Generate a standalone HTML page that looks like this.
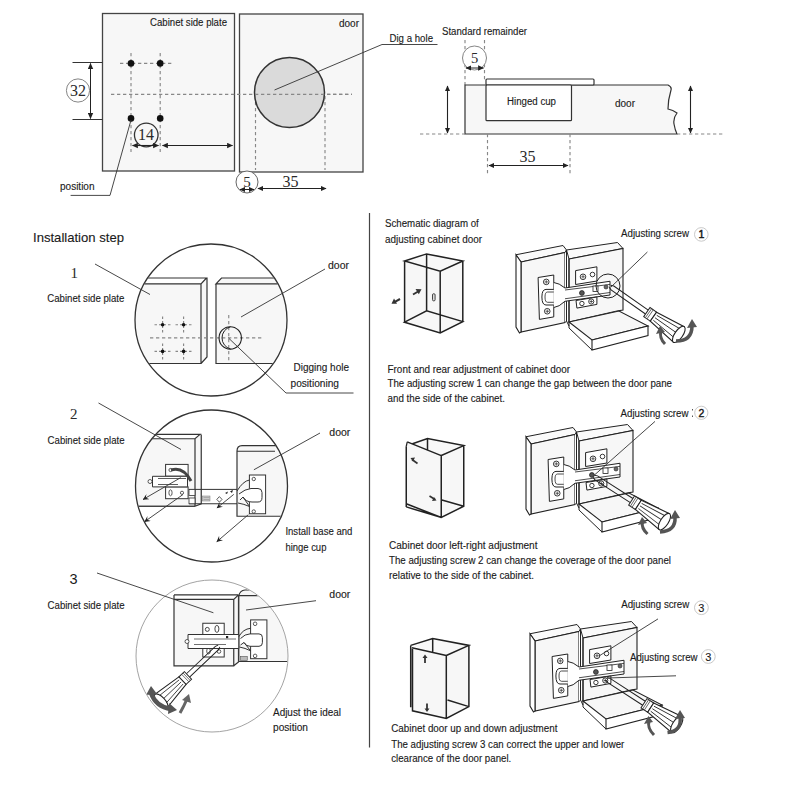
<!DOCTYPE html>
<html><head><meta charset="utf-8">
<style>
html,body{margin:0;padding:0;background:#fff;width:800px;height:800px;overflow:hidden}
svg{display:block}
text{font-family:"Liberation Sans",sans-serif;fill:#1a1a1a;font-size:10px;stroke:#1a1a1a;stroke-width:0.12px}
.sf{font-family:"Liberation Serif",serif;stroke-width:0;fill:#2a2a2a}
.n{font-size:16px}
.ln{stroke:#333;stroke-width:1.2;fill:none}
.th{stroke:#333;stroke-width:0.9;fill:none}
.dash{stroke:#888;stroke-width:1.15;stroke-dasharray:3.3 2.7;fill:none}
.g{fill:#f7f7f7}
</style></head>
<body>
<svg width="800" height="800" viewBox="0 0 800 800">
<defs>
  <marker id="ar" viewBox="0 0 10 10" refX="9" refY="5" markerWidth="6" markerHeight="6" orient="auto-start-reverse" markerUnits="userSpaceOnUse">
    <path d="M0,0.5 L10,5 L0,9.5 z" fill="#222"/>
  </marker>
</defs>

<!-- ================= TOP LEFT ================= -->
<rect x="102.5" y="13.5" width="132" height="157.5" fill="#f7f7f7" stroke="#444" stroke-width="1.3"/>
<rect x="239.5" y="14" width="123.5" height="158" fill="#f7f7f7" stroke="#444" stroke-width="1.3"/>
<text x="150" y="26" textLength="77" lengthAdjust="spacingAndGlyphs">Cabinet side plate</text>
<text x="339" y="27" textLength="20" lengthAdjust="spacingAndGlyphs">door</text>

<!-- dashed guides -->
<path class="dash" d="M131,53 V152 M160.2,53 V152 M120,63.4 H172 M111,94.4 H352"/>
<path class="dash" d="M255.5,96 V170 M325,96 V170"/>
<!-- holes -->
<circle cx="131" cy="63.4" r="3.3" fill="#111"/>
<circle cx="160.2" cy="63.4" r="3.3" fill="#111"/>
<circle cx="131" cy="118.4" r="3.3" fill="#111"/>
<circle cx="160.2" cy="118.4" r="3.3" fill="#111"/>

<!-- 32 dim -->
<path d="M72.5,62.5 H102.5 M72.5,119.5 H102.5" stroke="#333" stroke-width="1" fill="none"/>
<line x1="90.5" y1="63.5" x2="90.5" y2="118.5" stroke="#222" stroke-width="1" marker-start="url(#ar)" marker-end="url(#ar)"/>
<circle cx="78" cy="90.5" r="11.6" fill="#fff" stroke="#777" stroke-width="0.9"/>
<text class="sf n" x="78" y="96" text-anchor="middle">32</text>

<!-- 14 dim -->
<circle cx="146.25" cy="135" r="11.8" fill="#f7f7f7" stroke="#333" stroke-width="1.3"/>
<text class="sf n" x="146" y="140.3" text-anchor="middle">14</text>
<line x1="132.5" y1="145.5" x2="158.5" y2="145.5" stroke="#222" stroke-width="1.1" marker-start="url(#ar)" marker-end="url(#ar)"/>
<line x1="162.5" y1="145.5" x2="232.5" y2="145.5" stroke="#222" stroke-width="1.1" marker-start="url(#ar)" marker-end="url(#ar)"/>

<!-- position leader -->
<path class="th" d="M70.6,195.4 H110 L131,120"/>
<text x="60" y="189.6" textLength="34.5" lengthAdjust="spacingAndGlyphs">position</text>

<!-- door hole -->
<circle cx="289.5" cy="92.5" r="35" fill="#dadada" stroke="#333" stroke-width="1.5"/>
<path class="dash" d="M255,94.4 H352"/>
<path class="th" d="M274.5,90 L382,44.5 H437.5"/>
<text x="389.5" y="42" textLength="43.5" lengthAdjust="spacingAndGlyphs">Dig a hole</text>

<!-- 5 / 35 under door -->
<circle cx="247" cy="182" r="11" fill="#fff" stroke="#555" stroke-width="0.9"/>
<text class="sf" x="247" y="186.8" style="font-size:15px" text-anchor="middle">5</text>
<line x1="240" y1="189.5" x2="254" y2="189.5" stroke="#222" stroke-width="1" marker-start="url(#ar)" marker-end="url(#ar)"/>
<text class="sf n" x="290.5" y="187" text-anchor="middle">35</text>
<line x1="258" y1="188.5" x2="326" y2="188.5" stroke="#222" stroke-width="1.1" marker-start="url(#ar)" marker-end="url(#ar)"/>

<!-- ================= TOP RIGHT ================= -->
<text x="442" y="35" textLength="85" lengthAdjust="spacingAndGlyphs">Standard remainder</text>
<path class="dash" d="M465,40 V85 M484.5,40 V80"/>
<circle cx="474.5" cy="58" r="12" fill="#fff" stroke="#777" stroke-width="0.9"/>
<text class="sf" x="474.5" y="62.5" style="font-size:14.5px" text-anchor="middle">5</text>
<line x1="466" y1="68" x2="483.5" y2="68" stroke="#222" stroke-width="1" marker-start="url(#ar)" marker-end="url(#ar)"/>

<path d="M465,85 H668 Q672,87 671,90 Q668,100 668,109 Q673,110 677,113 Q673,118 674,124 Q675,130 677,134 H465 Z" fill="#f7f7f7" stroke="#333" stroke-width="1.2"/>
<rect x="486" y="79" width="108" height="6" rx="1" fill="#fff" stroke="#333" stroke-width="1.2"/>
<rect x="486" y="85" width="85.5" height="35.7" rx="1" fill="#fff" stroke="#333" stroke-width="1.2"/>
<text x="507" y="105.2" textLength="49" lengthAdjust="spacingAndGlyphs">Hinged cup</text>
<text x="615" y="107" textLength="20" lengthAdjust="spacingAndGlyphs">door</text>

<line x1="447.5" y1="86" x2="447.5" y2="133" stroke="#222" stroke-width="1.1" marker-start="url(#ar)" marker-end="url(#ar)"/>
<line x1="690.5" y1="86" x2="690.5" y2="133" stroke="#222" stroke-width="1.1" marker-start="url(#ar)" marker-end="url(#ar)"/>
<path class="dash" d="M420,134 H465 M677,134 H723 M487.5,134 V175 M570,134 V175"/>
<text class="sf n" x="527.5" y="162" text-anchor="middle">35</text>
<line x1="489" y1="165.5" x2="568" y2="165.5" stroke="#222" stroke-width="1.1" marker-start="url(#ar)" marker-end="url(#ar)"/>

<!-- divider -->
<line x1="369.5" y1="213" x2="369.5" y2="747.5" stroke="#444" stroke-width="1.2"/>

<!-- ================= LEFT COLUMN ================= -->
<defs>
  <clipPath id="c1"><circle cx="211" cy="320" r="75.5"/></clipPath>
  <clipPath id="c2"><circle cx="211.5" cy="486" r="75.5"/></clipPath>
  <clipPath id="c3"><circle cx="212" cy="656" r="75.5"/></clipPath>
  <marker id="tk" viewBox="0 0 10 10" refX="0.5" refY="5" markerWidth="6" markerHeight="6" orient="auto" markerUnits="userSpaceOnUse">
    <path d="M10,0 L0,5 L10,10 L6,5 z" fill="#222"/>
  </marker>
</defs>
<text x="33" y="242" style="font-size:13.1px" textLength="91" lengthAdjust="spacingAndGlyphs">Installation step</text>

<!-- step 1 -->
<text class="sf" x="70.5" y="278.2" style="font-size:15px">1</text>
<text x="47.3" y="302.2" textLength="77" lengthAdjust="spacingAndGlyphs">Cabinet side plate</text>
<g clip-path="url(#c1)">
  <path d="M120,284 H201 L207,278 V357 L201,363.5 H120 Z" fill="#f7f7f7"/>
  <path class="ln" d="M120,278 H206.5 L201,283.8 H120 M201,283.8 V363.5 H120 M207,278 V357 L201,363.5"/>
  <path d="M216,284 L221.5,278 H300 V363.5 H216 Z" fill="#f7f7f7"/>
  <path class="ln" d="M300,278 H221.5 L216,283.8 H300 M216,283.8 V363.5 H300"/>
  <path class="dash" d="M150,337.8 H262"/>
  <path class="dash" d="M228.75,315 V361"/>
  <g class="dash" style="stroke-dasharray:2.5 2">
    <path d="M154.5,324.7 h16 M162.6,316.5 v16 M175.5,324.7 h16 M183.6,316.5 v16 M154.5,351.4 h16 M162.6,343.5 v16 M175.5,351.4 h16 M183.6,343.5 v16"/>
  </g>
  <circle cx="162.6" cy="324.7" r="1.8" fill="#111"/>
  <circle cx="183.6" cy="324.7" r="1.8" fill="#111"/>
  <circle cx="162.6" cy="351.4" r="1.8" fill="#111"/>
  <circle cx="183.6" cy="351.4" r="1.8" fill="#111"/>
  <circle cx="230.25" cy="337.9" r="11.2" fill="none" stroke="#222" stroke-width="1.1"/>
  <path d="M230.5,326.8 A11.5,11.5 0 0 0 230.5,349" fill="none" stroke="#222" stroke-width="1"/>
</g>
<circle cx="211" cy="320" r="76" fill="none" stroke="#333" stroke-width="1.3"/>
<path class="th" d="M95,264 L150,294.5"/>
<path class="th" d="M241,317 L325,269"/>
<path class="th" d="M228.5,338 L286,393 H353.5"/>
<text x="328" y="268.5" textLength="21" lengthAdjust="spacingAndGlyphs">door</text>
<text x="293.5" y="370.5" textLength="55.5" lengthAdjust="spacingAndGlyphs">Digging hole</text>
<text x="290.5" y="386.5" textLength="48.5" lengthAdjust="spacingAndGlyphs">positioning</text>

<!-- step 2 -->
<text class="sf" x="70" y="419.3" style="font-size:15px">2</text>
<text x="47.6" y="443.5" textLength="77" lengthAdjust="spacingAndGlyphs">Cabinet side plate</text>
<g clip-path="url(#c2)">
  <path d="M130,438.75 H195 L201.25,434.4 V503.75 L195,506.25 H130 Z" fill="#f7f7f7"/>
  <path class="ln" d="M130,434.4 H200 L195,438.75 H130 M195,438.75 V506.25 H130 M201.25,434.4 V503.75 L195,506.25"/>
  <path d="M237,451.25 Q237,445.6 242,445.6 H300 V516.25 H237 Z" fill="#f7f7f7"/>
  <path class="ln" d="M300,445.6 H242 Q237,445.6 237,451.25 V516.25 H300 M237,451.25 H275"/>
  <!-- cabinet side hinge plate -->
  <rect x="165.6" y="464.4" width="22.5" height="11.8" fill="#fff" stroke="#333" stroke-width="1"/>
  <rect x="165.6" y="486.9" width="22.5" height="11.8" fill="#fff" stroke="#333" stroke-width="1"/>
  <circle cx="170.5" cy="470" r="1.6" fill="none" stroke="#333" stroke-width=".8"/>
  <ellipse cx="170.5" cy="492.8" rx="1.6" ry="3" fill="none" stroke="#333" stroke-width=".8"/>
  <circle cx="182" cy="492.8" r="1.6" fill="none" stroke="#333" stroke-width=".8"/>
  <path d="M152.5,476.3 H187.5 V486.9 H152.5 Z" fill="#fff" stroke="#333" stroke-width="1"/>
  <path d="M158,478.5 H186 M158,484.5 H178" stroke="#333" stroke-width=".8"/>
  <circle cx="150" cy="481.5" r="2" fill="#fff" stroke="#333" stroke-width=".8"/>
  <path d="M171,470 Q183,466 191,481" stroke="#444" stroke-width="3" fill="none"/>
  <!-- arm -->
  <path d="M189,489.4 H237 M189,503.75 H237" stroke="#333" stroke-width="1" fill="none"/>
  <rect x="189" y="489.4" width="6" height="6" fill="#fff" stroke="#333" stroke-width=".8"/>
  <rect x="189" y="498" width="6" height="5.75" fill="#fff" stroke="#333" stroke-width=".8"/>
  <rect x="202.5" y="496" width="7.5" height="5" fill="#ccc" stroke="#777" stroke-width=".5"/>
  <path d="M203.5,497.5 h6 M203.5,499.5 h6" stroke="#888" stroke-width=".5"/>
  <path d="M219.4,496.6 L222,499.4 L219.4,502.2 L216.8,499.4 Z" fill="#fff" stroke="#333" stroke-width=".8"/>
  <path d="M225,493 L228,491.5 L227,494 Z M230,491.2 L233,490 L232,493 Z" fill="#222"/>
  <!-- door cup plate -->
  <rect x="249.4" y="475" width="16.2" height="38.75" fill="#fff" stroke="#333" stroke-width="1"/>
  <circle cx="253.75" cy="479" r="1.7" fill="none" stroke="#333" stroke-width=".8"/>
  <circle cx="253.75" cy="511.5" r="1.7" fill="none" stroke="#333" stroke-width=".8"/>
  <path d="M237,491 Q243,481 249.5,480" fill="none" stroke="#333" stroke-width="1"/>
  <path d="M239,494 Q245,489 251,488.5 H258 Q262,488.5 262,492.5 V497.5 Q262,502 258,502 H252 Q246,502 243,497 L240,500" fill="#fff" stroke="#333" stroke-width="1"/>
  <path d="M243,497 L249.5,506.5 M238,503 Q244,504 249.5,506.5" fill="none" stroke="#333" stroke-width="1"/>
  <!-- pointer lines -->
  <path class="th" d="M143,499.5 L180.75,477.6" marker-start="url(#tk)"/>
  <path class="th" d="M144.5,521.75 L183,494.5" marker-start="url(#tk)"/>
  <path class="th" d="M216.9,508 L233.75,494.4" marker-start="url(#tk)"/>
  <path class="th" d="M216.75,541.75 L248.25,514.75" marker-start="url(#tk)"/>
  <path class="th" d="M130,506.25 H195"/>
</g>
<circle cx="211.5" cy="486" r="76" fill="none" stroke="#333" stroke-width="1.3"/>
<path class="th" d="M98.5,403 L181,449.5"/>
<path class="th" d="M320,433 L253.9,469.75"/>
<text x="329.3" y="436" textLength="21" lengthAdjust="spacingAndGlyphs">door</text>
<text x="285.4" y="534.5" textLength="67" lengthAdjust="spacingAndGlyphs">Install base and</text>
<text x="285.4" y="551" textLength="41" lengthAdjust="spacingAndGlyphs">hinge cup</text>

<!-- step 3 -->
<text x="69.5" y="583.7" style="font-size:14.5px;stroke-width:0">3</text>
<text x="47.6" y="608.5" textLength="77" lengthAdjust="spacingAndGlyphs">Cabinet side plate</text>
<g clip-path="url(#c3)">
  <path d="M174,599.4 H233.75 L238.5,594.9 V662 L233.75,665.8 H174 Z" fill="#f7f7f7"/>
  <path class="ln" d="M174,594.9 H238.5 M174,599.4 H233.75 L238.5,594.9 M174,594.9 V665.8 H233.75 V599.4 M238.5,594.9 V662 L233.75,665.8"/>
  <path d="M238.8,595.7 Q240,590.5 245,590 H300 V661.5 H238.8 Z" fill="#f7f7f7"/>
  <path class="ln" d="M238.8,661.5 V595.7 Q240,590.5 245,590 H300 M238.8,595.7 H300 M238.8,661.5 H300"/>
  <!-- hinge plate on cabinet -->
  <rect x="202.8" y="623.25" width="21.4" height="33.75" fill="#fff" stroke="#333" stroke-width="1"/>
  <circle cx="207.3" cy="629.4" r="2" fill="none" stroke="#333" stroke-width=".9"/>
  <ellipse cx="216.9" cy="628.9" rx="2" ry="3.5" fill="none" stroke="#333" stroke-width=".9"/>
  <circle cx="219" cy="651.5" r="1.8" fill="none" stroke="#333" stroke-width=".8"/>
  <ellipse cx="208.5" cy="651" rx="1.8" ry="3" fill="none" stroke="#333" stroke-width=".8"/>
  <path d="M188,634.5 H238.8 V648.5 H188 Z" fill="#fff" stroke="#333" stroke-width="1"/>
  <path d="M194,639 H236 M194,644.5 H226" stroke="#333" stroke-width=".7"/>
  <circle cx="187" cy="641.5" r="2" fill="#fff" stroke="#333" stroke-width=".8"/>
  <rect x="226" y="636" width="2.2" height="2.2" fill="#222"/>
  <!-- cup plate -->
  <rect x="250.6" y="619.9" width="16.3" height="38.8" fill="#fff" stroke="#333" stroke-width="1"/>
  <circle cx="255.1" cy="623.8" r="1.8" fill="none" stroke="#333" stroke-width=".8"/>
  <circle cx="255.1" cy="655.9" r="1.8" fill="none" stroke="#333" stroke-width=".8"/>
  <path d="M238.8,636.7 Q243,629 250.6,628.3" fill="none" stroke="#333" stroke-width="1"/>
  <path d="M240.5,638.5 Q245,633.9 250,633.9 H259 Q262.4,633.9 262.4,637.5 V642.7 Q262.4,646.3 259,646.3 H250 Q246,646.3 244,642.5 L240.5,645" fill="#fff" stroke="#333" stroke-width="1"/>
  <path d="M244,642.5 L250.6,650.8 M239.5,647 Q245,648 250.6,650.8" fill="none" stroke="#333" stroke-width="1"/>
  <rect x="240.5" y="656.4" width="6.75" height="4" fill="#bbb" stroke="#555" stroke-width=".6"/>
  <!-- screwdriver -->
  <use href="#sd" transform="translate(219,646) rotate(136.5) scale(0.95)"/>
  <path d="M151,693 Q156,707 171,709" stroke="#555" stroke-width="4.5" fill="none"/>
  <path d="M146,695 L151,686 L157,694 Z" fill="#555"/>
  <path d="M169,703 L177,710 L168,714 Z" fill="#555"/>
  <path d="M180,713 Q184,706 187,699" stroke="#666" stroke-width="3" fill="none"/>
  <path d="M182,700 L189,694 L191,703 Z" fill="#666"/>
</g>
<circle cx="212" cy="656" r="76" fill="none" stroke="#999" stroke-width="0.9"/>
<path class="th" d="M97,573 L213.4,612.75"/>
<path class="th" d="M316,600.7 L246,610"/>
<text x="329.3" y="598" textLength="21" lengthAdjust="spacingAndGlyphs">door</text>
<text x="273" y="716" textLength="68" lengthAdjust="spacingAndGlyphs">Adjust the ideal</text>
<text x="273" y="731" textLength="35" lengthAdjust="spacingAndGlyphs">position</text>
<!-- ================= RIGHT COLUMN ================= -->
<defs>
  <g id="hd">
    <!-- door panel -->
    <path d="M516,254.75 L563,245.5 L566.5,250 L565,252.5 L521,262 Z" fill="#fafafa" stroke="#222" stroke-width="1"/>
    <path d="M521,262 L565,252.5 V322.5 L521,332 Z" fill="#f7f7f7" stroke="#222" stroke-width="1.1"/>
    <path d="M516,254.75 L521,262 V332 L519.5,333 L516,327 Z" fill="#fff" stroke="#222" stroke-width="1.1"/>
    <path d="M565,252.5 L566.5,250 V321 L565,322.5" fill="#fff" stroke="#222" stroke-width="0.9"/>
    <!-- cabinet back -->
    <path d="M566.5,250 L617.5,242.5 L623,248.5 L569,259 Z" fill="#fafafa" stroke="#222" stroke-width="1"/>
    <path d="M569,259 L623,248.5 V310 L617,311 L569,322 Z" fill="#f7f7f7" stroke="#222" stroke-width="1.1"/>
    <path d="M566.5,250 V321 L569,326 M569,259 V322" fill="none" stroke="#222" stroke-width="1"/>
    <!-- shelf -->
    <path d="M569,322 L619,311 L648,326 L592,340 Z" fill="#f7f7f7" stroke="#222" stroke-width="1.1"/>
    <path d="M592,340 L648,326 V335.5 L592,350 Z" fill="#fff" stroke="#222" stroke-width="1.1"/>
    <path d="M569,322 V328 L592,350" fill="none" stroke="#222" stroke-width="1"/>
    <!-- door plate -->
    <path d="M538.1,277.5 L553.75,275 V316.9 L539.4,319.4 Z" fill="#fff" stroke="#222" stroke-width="1"/>
    <circle cx="546.25" cy="281.9" r="2.8" fill="#fff" stroke="#222" stroke-width=".9"/>
    <circle cx="547.25" cy="311.25" r="2.8" fill="#fff" stroke="#222" stroke-width=".9"/>
    <path d="M544.5,281.9 h3.5 M546.25,280.2 v3.5 M545.5,311.25 h3.5 M547.25,309.5 v3.5" stroke="#222" stroke-width=".7"/>
    <!-- arm -->
    <path d="M553.75,282.5 Q559,283 565,288 L610,281.25 V295 L565,301.25 Q559,307 553.75,307.5" fill="#fff" stroke="#222" stroke-width="1"/>
    <path d="M565,290 L610,284.4 M565,298.75 L610,292.5" stroke="#222" stroke-width=".8" fill="none"/>
    <path d="M553.75,289.4 H546 Q541.9,289.4 541.9,297 Q541.9,305 546,305 H553.75" fill="#fff" stroke="#222" stroke-width="1"/>
    <path d="M553.75,292 H547.5 Q545,292 545,297 Q545,302.3 547.5,302.3 H553.75" fill="none" stroke="#222" stroke-width=".8"/>
    <!-- cabinet plate -->
    <path d="M575.6,270.6 L596.9,266.8 V281 L575.6,284.5 Z" fill="#fff" stroke="#222" stroke-width="1"/>
    <path d="M576,300.5 L596.9,297 V304.4 L576.9,308.1 Z" fill="#fff" stroke="#222" stroke-width="1"/>
    <circle cx="583" cy="276.8" r="2.8" fill="#fff" stroke="#222" stroke-width=".9"/>
    <path d="M581.3,276.8 h3.5 M583,275 v3.5" stroke="#222" stroke-width=".7"/>
    <circle cx="592.5" cy="274.5" r="2.3" fill="#fff" stroke="#222" stroke-width=".9"/>
    <circle cx="581.9" cy="293" r="2.4" fill="#555" stroke="#222" stroke-width=".8"/>
    <circle cx="581.9" cy="303.5" r="2.2" fill="#fff" stroke="#222" stroke-width=".9"/>
    <circle cx="591.25" cy="301.5" r="2.6" fill="#fff" stroke="#222" stroke-width=".9"/>
    <path d="M589.6,301.5 h3.3 M591.25,299.8 v3.3" stroke="#222" stroke-width=".7"/>
    <rect x="593" y="286" width="5" height="5.5" fill="#fff" stroke="#222" stroke-width=".8"/>
    <circle cx="606" cy="287" r="2" fill="#666" stroke="#222" stroke-width=".6"/>
  </g>
  <g id="sd">
    <path d="M0,-1.3 L3,-2.4 H45 M0,1.3 L3,2.4 H45" stroke="#222" stroke-width="1" fill="none"/>
    <path d="M45,-5.5 H53 V5.5 H45 Z" fill="#fff" stroke="#222" stroke-width="1"/>
    <path d="M47,-5.5 V5.5 M49,-5.5 V5.5" stroke="#555" stroke-width=".8"/>
    <path d="M53,-5.5 L84,-9.5 V9.5 L53,5.5 Z" fill="#fff" stroke="#222" stroke-width="1.1"/>
    <path d="M55,-3 L84,-5.5 M55,0 L84,0 M55,3 L84,5.5" stroke="#333" stroke-width=".9"/>
    <ellipse cx="84" cy="0" rx="4" ry="9.5" fill="#fff" stroke="#222" stroke-width="1.1"/>
  </g>
</defs>

<text x="385" y="227" textLength="93.75" lengthAdjust="spacingAndGlyphs">Schematic diagram of</text>
<text x="385" y="242.5" textLength="97" lengthAdjust="spacingAndGlyphs">adjusting cabinet door</text>

<!-- box 1 -->
<path d="M404.6,261 L440.2,271.1 V332.9 L404.6,322.2 Z" fill="#f7f7f7"/>
<path d="M440.2,271.1 L462.8,261 V321.6 L440.2,332.9 Z" fill="#f7f7f7"/>
<path d="M404.6,261 L426.6,253.9 L462.8,261 L440.2,271.1 Z" fill="#f8f8f8"/>
<path d="M404.6,261 L426.6,253.9 L462.8,261 L440.2,271.1 Z M404.6,261 V322.2 M426.6,253.9 V310.9 M462.8,261 V321.6 M440.2,271.1 V332.9 M404.6,322.2 L426.6,310.9 L462.8,321.6 L440.2,332.9 Z" fill="none" stroke="#222" stroke-width="1.5"/>
<rect x="432.5" y="293.7" width="2.6" height="7.2" rx="1.2" fill="#ddd" stroke="#333" stroke-width=".9"/>
<path d="M413,294.5 L419,291" stroke="#333" stroke-width="2"/>
<path d="M421.5,289.3 L415.5,289 L418.8,294.3 Z" fill="#333"/>
<path d="M394,302.3 L400,299" stroke="#333" stroke-width="2"/>
<path d="M391.5,303.8 L394,298.6 L397,303.8 Z" fill="#333"/>

<!-- drawing 1 -->
<use href="#hd"/>
<circle cx="608" cy="286" r="12" fill="none" stroke="#222" stroke-width="1"/>
<use href="#sd" transform="translate(610,286.25) rotate(35)"/>
<g fill="#555" stroke="none"><path d="M676,341 Q692,341 692,326" stroke="#555" stroke-width="3.5" fill="none"/><path d="M687,328 L692,319 L697,327 Z"/><path d="M665,344 Q659,338 661,331" stroke="#555" stroke-width="3" fill="none"/><path d="M656,334 L660,326 L665,332 Z"/></g>
<path class="th" d="M647.4,252 L611,287"/>
<text x="621" y="237" textLength="68" lengthAdjust="spacingAndGlyphs">Adjusting screw</text>
<circle cx="701.3" cy="234.4" r="6.8" fill="#fff" stroke="#bbb" stroke-width=".8"/>
<text x="701.3" y="238.2" style="font-size:10.5px;stroke-width:0.5px" text-anchor="middle">1</text>

<text x="387.5" y="372.5" textLength="182.5" lengthAdjust="spacingAndGlyphs">Front and rear adjustment of cabinet door</text>
<text x="387.5" y="386.7" textLength="284.5" lengthAdjust="spacingAndGlyphs">The adjusting screw 1 can change the gap between the door pane</text>
<text x="387.5" y="401.7" textLength="117.5" lengthAdjust="spacingAndGlyphs">and the side of the cabinet.</text>

<!-- box 2 -->
<path d="M407.25,441.9 L441.25,455.6 V517.5 L406.25,506.9 V446.25 Z" fill="#f7f7f7"/>
<path d="M441.25,455.6 L463.75,445.6 V506.25 L441.25,517.5 Z" fill="#f7f7f7"/>
<path d="M412.5,443.75 L427.5,438.5 L463.75,445.6 L441.25,455.6 Z" fill="#f8f8f8"/>
<path d="M406.25,446.25 V506.9 M407.25,441.9 L441.25,455.6 M412.5,443.75 L427.5,438.5 L463.75,445.6 L441.25,455.6 V517.5 M463.75,445.6 V506.25 L441.25,517.5 L406.25,506.9 M427.5,438.5 V450.6 M441.9,500 L463.75,506.25 M406.25,503.75 L441.25,517.5" fill="none" stroke="#222" stroke-width="1.5"/>
<path d="M406.25,446.25 L407.25,441.9" stroke="#222" stroke-width="1.2"/>
<path d="M412,459.5 L417.5,463.5" stroke="#333" stroke-width="1.6"/>
<path d="M410.5,458 L415,457.5 L413,461.5 Z" fill="#333"/>
<path d="M429.5,496 L435,499.5" stroke="#333" stroke-width="1.6"/>
<path d="M436.5,500.5 L432,501 L434,497 Z" fill="#333"/>

<!-- drawing 2 -->
<use href="#hd" transform="translate(10,182)"/>
<use href="#sd" transform="translate(593.75,476.25) rotate(32.7)"/>
<g fill="#555" stroke="none"><path d="M660,532 Q676,531 675,517" stroke="#555" stroke-width="3.5" fill="none"/><path d="M670,519 L675,510 L680,518 Z"/><path d="M647.5,534 Q641,528 642.5,522" stroke="#555" stroke-width="3" fill="none"/><path d="M638,525 L642,517 L647,523 Z"/></g>
<path class="th" d="M655,421.4 L594,475.4"/>
<text x="620.5" y="416.5" textLength="68" lengthAdjust="spacingAndGlyphs">Adjusting screw</text>
<circle cx="701.3" cy="412.8" r="6.6" fill="#fff" stroke="#bbb" stroke-width=".8"/>
<text x="701.3" y="416.6" style="font-size:10.5px;stroke-width:0.4px" text-anchor="middle">2</text>
<path d="M692.5,409 v1.5 M692.5,415.5 v1.5" stroke="#555" stroke-width="1"/>

<text x="389" y="548.5" textLength="148.5" lengthAdjust="spacingAndGlyphs">Cabinet door left-right adjustment</text>
<text x="389" y="563.7" textLength="282" lengthAdjust="spacingAndGlyphs">The adjusting screw 2 can change the coverage of the door panel</text>
<text x="389" y="579" textLength="145" lengthAdjust="spacingAndGlyphs">relative to the side of the cabinet.</text>

<!-- box 3 -->
<path d="M411.9,647.8 L446.3,655.5 V718.5 L412.5,710.8 Z" fill="#f7f7f7"/>
<path d="M446.3,655.5 L468.9,645.4 V706.6 L446.3,718.5 Z" fill="#f7f7f7"/>
<path d="M410.7,645.4 L432.7,638.6 L468.9,645.4 L446.3,655.5 Z" fill="#f8f8f8"/>
<path d="M410.7,645.4 L432.7,638.6 L468.9,645.4 L446.3,655.5 M411.9,647.8 L446.3,655.5 M432.7,638.6 V652 M410.7,645.4 V707.2 M412.5,649 V710.8 L446.3,718.5 L468.9,706.6 V645.4 M446.3,655.5 V718.5 M447.5,700 L468.9,706.6" fill="none" stroke="#222" stroke-width="1.5"/>
<path d="M425,663 V657" stroke="#333" stroke-width="1.8"/>
<path d="M422.5,658 L425,654.5 L427.5,658 Z" fill="#333"/>
<path d="M427,703.5 V709.5" stroke="#333" stroke-width="1.8"/>
<path d="M424.5,708.5 L427,712 L429.5,708.5 Z" fill="#333"/>

<!-- drawing 3 -->
<use href="#hd" transform="translate(14,379)"/>
<use href="#sd" transform="translate(606.25,678.75) rotate(33)"/>
<g fill="#555" stroke="none"><path d="M667.5,732.5 Q682,731 680,717" stroke="#555" stroke-width="3.5" fill="none"/><path d="M675,719 L680,710 L685,718 Z"/><path d="M654,735 Q647,728 649,721" stroke="#555" stroke-width="3" fill="none"/><path d="M644,724 L648.5,716 L653,722 Z"/></g>
<path class="th" d="M658,618.9 L599,656 M676,675.8 L607,678"/>
<text x="621.2" y="608.1" textLength="68.1" lengthAdjust="spacingAndGlyphs">Adjusting screw</text>
<circle cx="701.4" cy="607.7" r="6.9" fill="#fff" stroke="#bbb" stroke-width=".8"/>
<text x="701.4" y="611.7" style="font-size:11px;stroke-width:0.1px" text-anchor="middle">3</text>
<text x="630.1" y="661.3" textLength="67.4" lengthAdjust="spacingAndGlyphs">Adjusting screw</text>
<circle cx="708.3" cy="656.5" r="6.9" fill="#fff" stroke="#bbb" stroke-width=".8"/>
<text x="708.3" y="660.5" style="font-size:11px;stroke-width:0.1px" text-anchor="middle">3</text>

<text x="391.25" y="732" textLength="166.25" lengthAdjust="spacingAndGlyphs">Cabinet door up and down adjustment</text>
<text x="391.25" y="747.5" textLength="233" lengthAdjust="spacingAndGlyphs">The adjusting screw 3 can correct the upper and lower</text>
<text x="391.25" y="762.3" textLength="120" lengthAdjust="spacingAndGlyphs">clearance of the door panel.</text>
</svg>
</body></html>
